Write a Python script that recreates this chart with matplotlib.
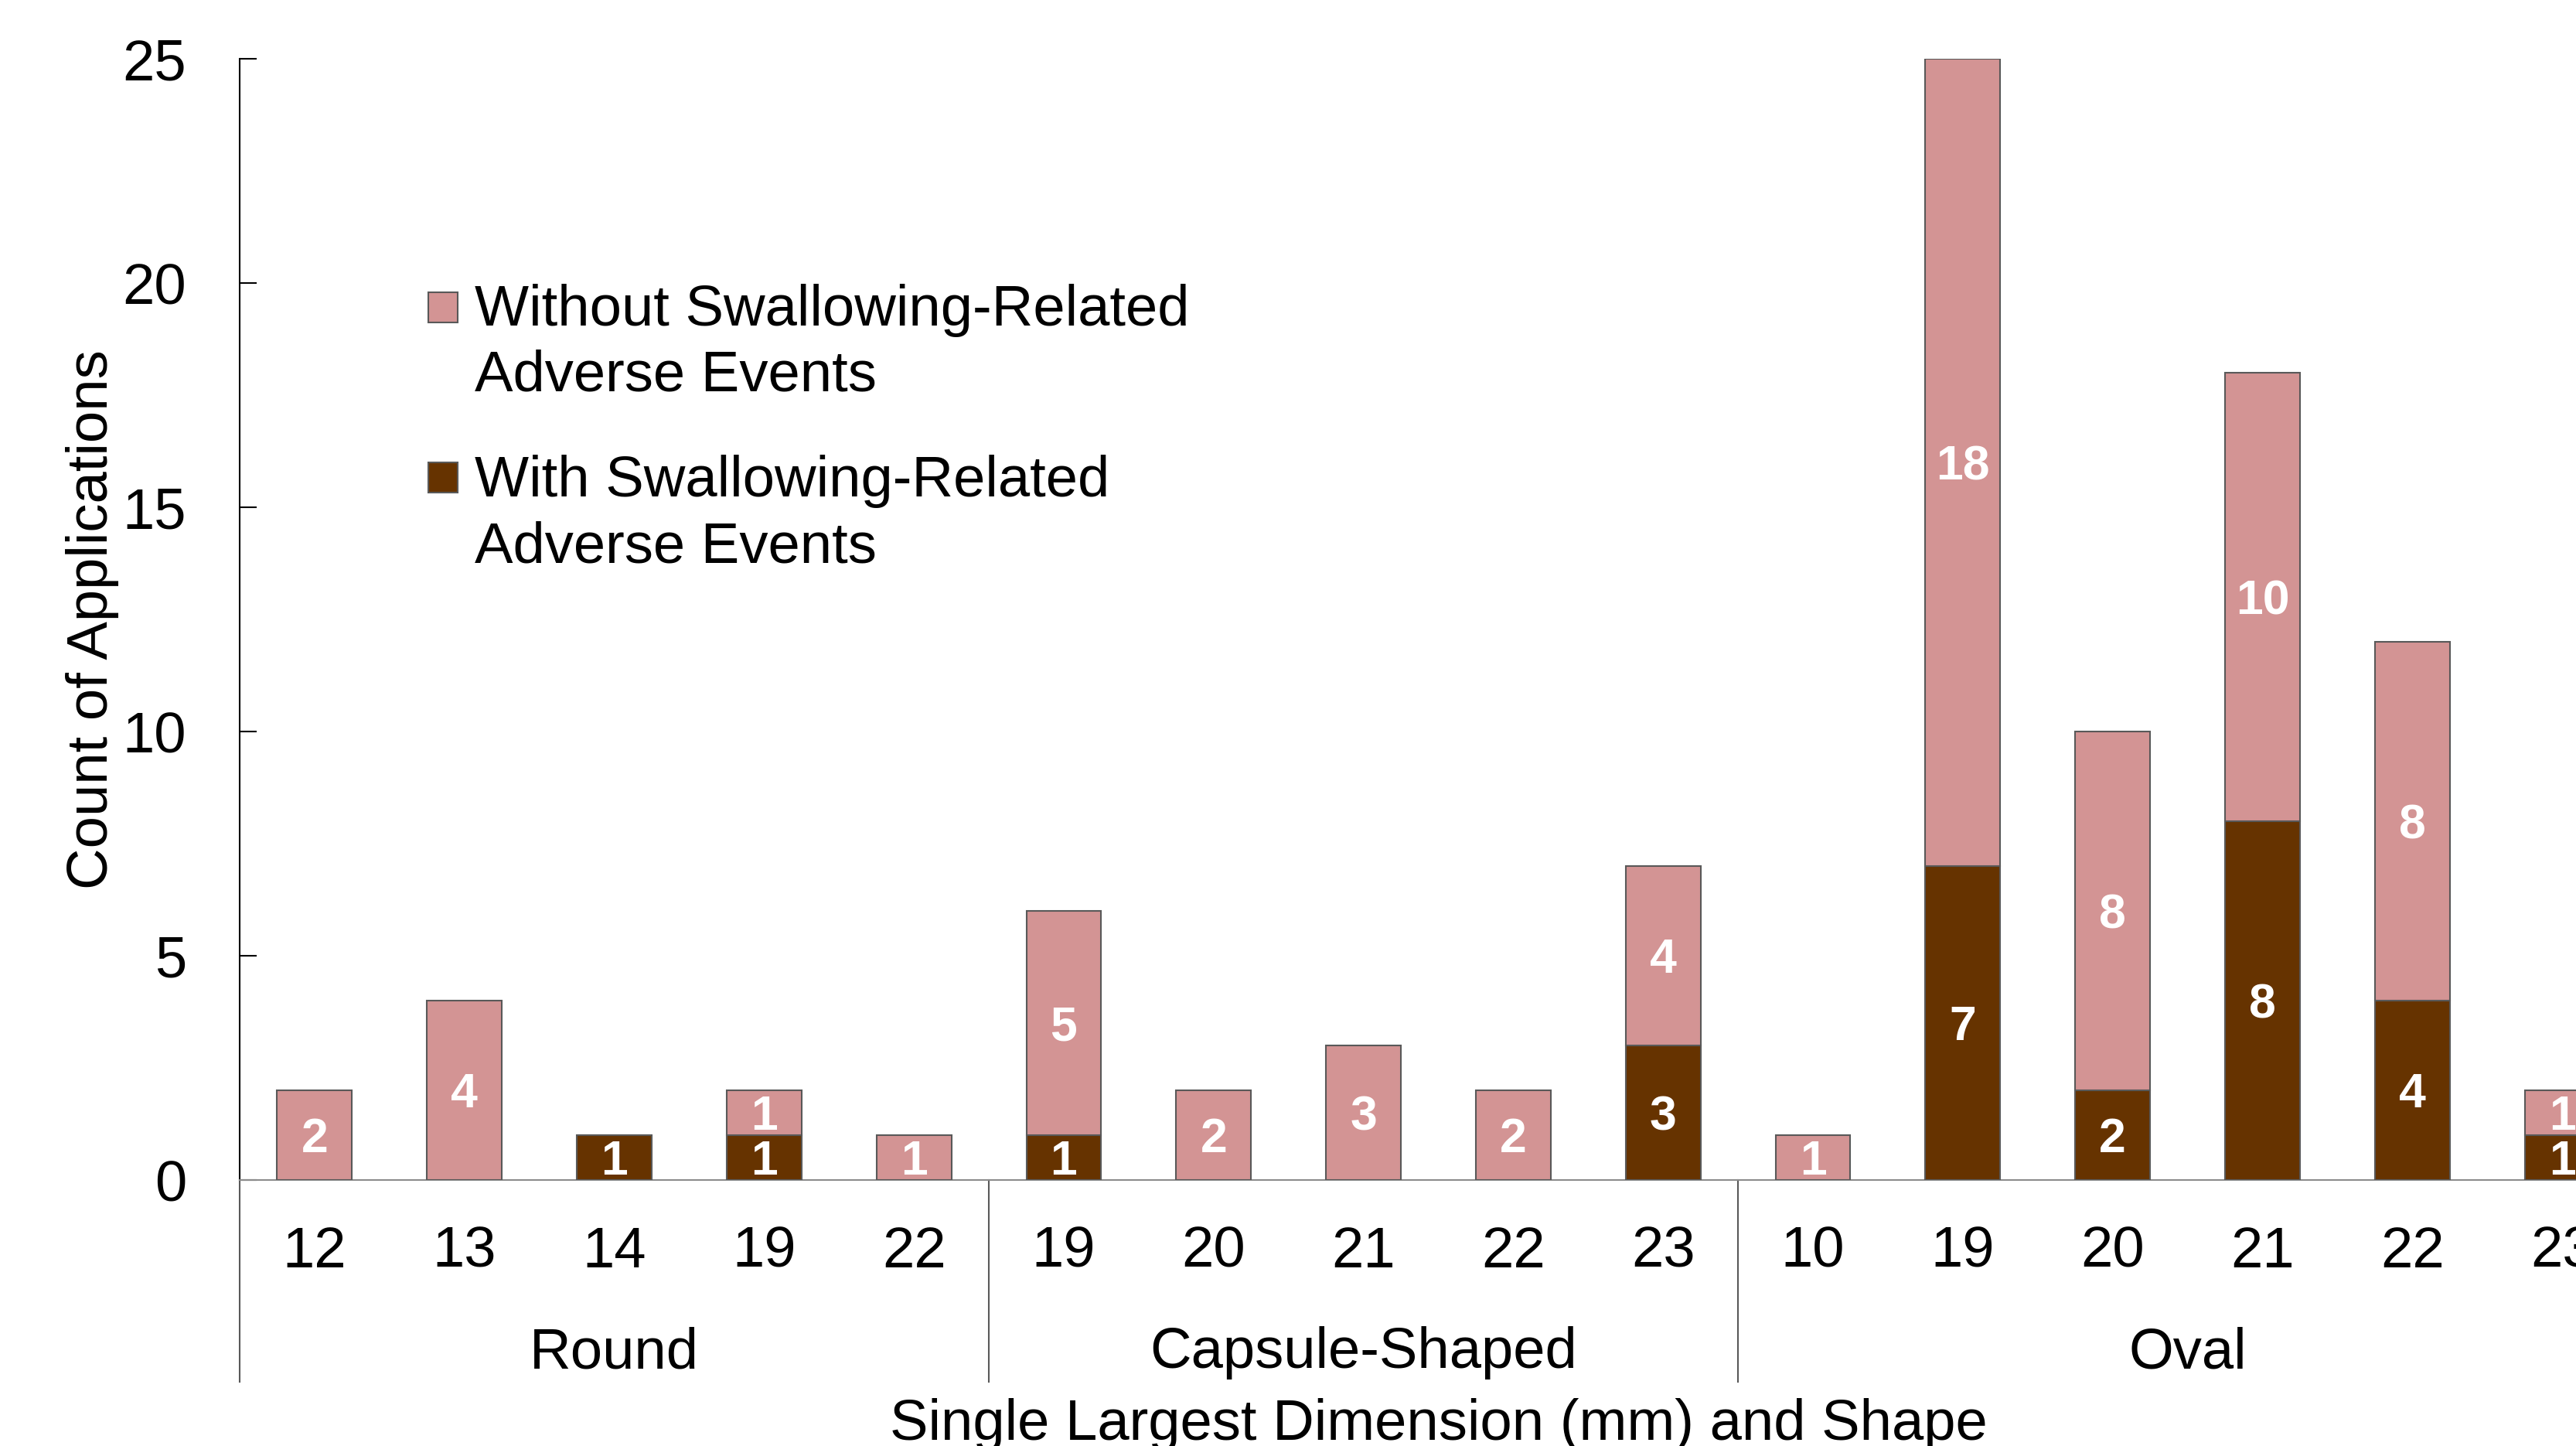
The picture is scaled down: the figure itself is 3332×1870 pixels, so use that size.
import matplotlib
matplotlib.use("Agg")
import matplotlib.pyplot as plt
from matplotlib.patches import Rectangle
import matplotlib.transforms as mtransforms

plt.rcParams['font.family'] = ['Liberation Sans', 'DejaVu Sans']

# data
dim_labels = ["12", "13", "14", "19", "22",
              "19", "20", "21", "22", "23",
              "10", "19", "20", "21", "22", "23"]
shape_names = ["Round", "Capsule-Shaped", "Oval"]
shape_sizes = [5, 5, 6]
with_ae = [0, 0, 1, 1, 0, 1, 0, 0, 0, 3, 0, 7, 2, 8, 4, 1]
without_ae = [2, 4, 0, 1, 1, 5, 2, 3, 2, 4, 1, 18, 8, 10, 8, 1]

legend_labels = [["Without Swallowing-Related", "Adverse Events"],
                 ["With Swallowing-Related", "Adverse Events"]]

pink = "#D39494"
brown = "#663300"
edge = "#595959"
fs = 53.5

W, H = 3332, 1870
fig = plt.figure(figsize=(W / 100, H / 100), dpi=100)
ax = fig.add_axes([310 / W, 344 / H, 3101 / W, 1450 / H])

x = list(range(len(dim_labels)))
ax.bar(x, with_ae, width=0.5, color=brown, edgecolor=edge, linewidth=1.5, zorder=3)
ax.bar(x, without_ae, width=0.5, bottom=with_ae, color=pink, edgecolor=edge,
       linewidth=1.5, zorder=3)

# value labels in the middle of each segment
for i in x:
    if with_ae[i] > 0:
        ax.annotate(str(with_ae[i]), (i, with_ae[i] / 2), xytext=(0, -16),
                    textcoords="offset points", ha="center", va="baseline",
                    color="white", fontsize=45, fontweight="bold", zorder=4)
    if without_ae[i] > 0:
        ax.annotate(str(without_ae[i]), (i, with_ae[i] + without_ae[i] / 2),
                    xytext=(0, -16), textcoords="offset points", ha="center",
                    va="baseline", color="white", fontsize=45, fontweight="bold",
                    zorder=4)

ax.set_xlim(-0.5, len(dim_labels) - 0.5)
ax.set_ylim(0, 25)
ax.set_yticks([0, 5, 10, 15, 20, 25])
ax.tick_params(axis="y", direction="in", length=16, width=1.5, pad=49.5,
               labelsize=fs, colors="black")
ax.set_xticks([])

for s in ["top", "right"]:
    ax.spines[s].set_visible(False)
ax.spines["left"].set_linewidth(1.5)
ax.spines["bottom"].set_color("#8C8C8C")
ax.spines["bottom"].set_linewidth(1.5)

trans = mtransforms.blended_transform_factory(ax.transData, ax.transAxes)

# dimension labels
for i, lab in enumerate(dim_labels):
    ax.text(i, -0.0779, lab, transform=trans, ha="center", va="baseline",
            fontsize=fs, clip_on=False)

# shape groups with separators
start = 0
seps = [-0.5]
for name, n in zip(shape_names, shape_sizes):
    centre = start + (n - 1) / 2
    ax.text(centre, -0.1676, name, transform=trans, ha="center", va="baseline",
            fontsize=fs, clip_on=False)
    start += n
    seps.append(start - 0.5)
for sx in seps:
    ax.plot([sx, sx], [0, -0.18], transform=trans, color=edge, linewidth=1.5,
            clip_on=False)

ax.text(0.5, -0.2317, "Single Largest Dimension (mm) and Shape",
        transform=ax.transAxes, ha="center", va="baseline", fontsize=fs)
ax.text(-0.0551, 0.5, "Count of Applications", transform=ax.transAxes,
        rotation=90, rotation_mode="anchor", ha="center", va="baseline",
        fontsize=fs)

# legend drawn by hand (Excel-like, marker beside first line)
legend_rows = [(378, 421, pink), (598, 642, brown)]
for (mk_top, base, col), lines in zip(legend_rows, legend_labels):
    fig.add_artist(Rectangle((554 / W, 1 - (mk_top + 39) / H), 38 / W, 39 / H,
                             transform=fig.transFigure, facecolor=col,
                             edgecolor=edge, linewidth=1.5))
    for k, line in enumerate(lines):
        fig.text(614 / W, 1 - (base + 85 * k) / H, line, ha="left",
                 va="baseline", fontsize=fs)

fig.savefig("out.png", dpi=100)
